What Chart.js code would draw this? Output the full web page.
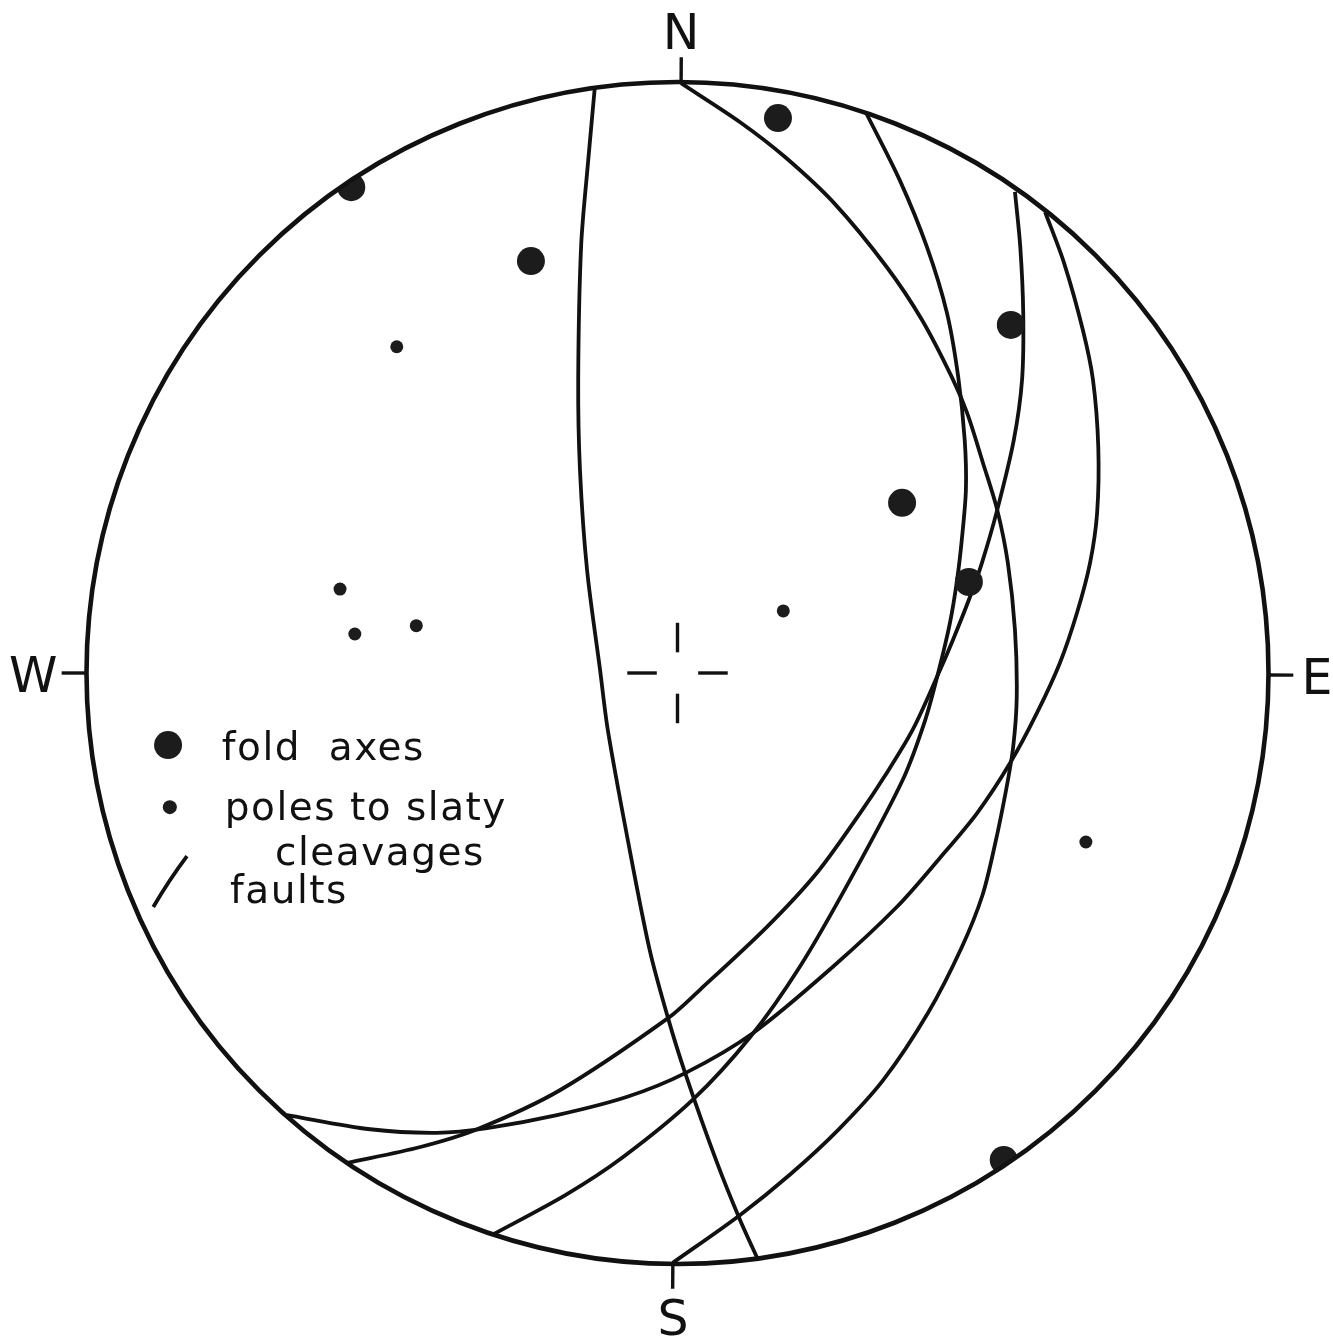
<!DOCTYPE html>
<html lang="en">
<head>
<meta charset="UTF-8">
<title>Stereonet - fold axes, cleavages and faults</title>
<script src="https://cdn.jsdelivr.net/npm/chart.js"></script>
<style>
  body { margin: 0; background: #ffffff; }
  canvas { display: block; }
</style>
</head>
<body>
<canvas id="net" width="1333" height="1337"></canvas>
<script>
// all positions in units of the net radius: x = east, y = north, centre 0,0
const foldAxes = [[0.170, 0.939], [-0.552, 0.822], [-0.248, 0.697], [0.564, 0.589],
                  [0.380, 0.288], [0.493, 0.154], [0.552, -0.824]];
const cleavagePoles = [[-0.475, 0.552], [-0.571, 0.142], [-0.546, 0.066], [-0.442, 0.080],
                       [0.179, 0.105], [0.691, -0.286]];

// fault great circles
const faultA = [[-0.140, 0.990], [-0.151, 0.868], [-0.163, 0.724], [-0.168, 0.496], [-0.165, 0.343],
                [-0.153, 0.174], [-0.131, 0.005], [-0.118, -0.096], [-0.084, -0.283], [-0.047, -0.469],
                [-0.016, -0.584], [0.013, -0.677], [0.067, -0.829], [0.106, -0.926], [0.135, -0.990]];
const faultB = [[0.006, 0.998], [0.106, 0.932], [0.182, 0.873], [0.265, 0.795], [0.354, 0.687],
                [0.414, 0.597], [0.464, 0.501], [0.490, 0.440], [0.517, 0.355], [0.541, 0.276],
                [0.559, 0.186], [0.571, 0.073], [0.574, -0.041], [0.568, -0.125], [0.556, -0.198],
                [0.537, -0.291], [0.516, -0.376], [0.481, -0.464], [0.424, -0.575], [0.348, -0.689],
                [0.272, -0.773], [0.190, -0.849], [0.106, -0.917], [-0.008, -0.998]];
const faultR = [[0.319, 0.948], [0.376, 0.834], [0.422, 0.721], [0.456, 0.609], [0.475, 0.501],
                [0.486, 0.394], [0.488, 0.310], [0.481, 0.225], [0.473, 0.157], [0.461, 0.085],
                [0.441, 0.000], [0.419, -0.080], [0.381, -0.181], [0.292, -0.350], [0.207, -0.497],
                [0.123, -0.616], [0.026, -0.722], [-0.092, -0.819], [-0.189, -0.883], [-0.314, -0.951]];
const faultQ = [[0.571, 0.814], [0.580, 0.721], [0.585, 0.609], [0.583, 0.496], [0.569, 0.394],
                [0.541, 0.276], [0.515, 0.186], [0.495, 0.129], [0.466, 0.056], [0.442, 0.000],
                [0.398, -0.096], [0.351, -0.174], [0.309, -0.237], [0.236, -0.338], [0.151, -0.430],
                [0.038, -0.536], [-0.016, -0.584], [-0.199, -0.706], [-0.339, -0.772], [-0.435, -0.802],
                [-0.559, -0.829]];
const faultP = [[0.622, 0.780], [0.654, 0.694], [0.686, 0.580], [0.703, 0.496], [0.712, 0.382],
                [0.710, 0.271], [0.698, 0.186], [0.676, 0.102], [0.647, 0.017], [0.608, -0.068],
                [0.563, -0.152], [0.507, -0.237], [0.444, -0.313], [0.371, -0.396], [0.263, -0.497],
                [0.128, -0.609], [0.013, -0.677], [-0.085, -0.717], [-0.204, -0.748], [-0.322, -0.770],
                [-0.407, -0.778], [-0.520, -0.772], [-0.661, -0.748]];
const faults = [faultA, faultB, faultR, faultQ, faultP];

const directions = ['N', 'E', 'S', 'W'];
const legendLabels = ['fold  axes', 'poles to slaty', 'cleavages', 'faults'];

const INK = '#111111';
const DOT = '#1c1c1c';

function toXY(list) {
    return list.map(p => ({ x: p[0], y: p[1] }));
}

// primitive circle, ticks, centre cross, labels and legend
const netFrame = {
    id: 'netFrame',
    beforeDatasetsDraw(chart) {
        const { ctx, scales: { x, y } } = chart;
        const r = x.getPixelForValue(1) - x.getPixelForValue(0);
        ctx.save();
        ctx.beginPath();
        ctx.arc(x.getPixelForValue(0), y.getPixelForValue(0), r, 0, Math.PI * 2);
        ctx.clip();
    },
    afterDatasetsDraw(chart) {
        const { ctx, scales: { x, y } } = chart;
        ctx.restore();
        const cx = x.getPixelForValue(0), cy = y.getPixelForValue(0);
        const r = x.getPixelForValue(1) - cx;
        const px = v => x.getPixelForValue(v);
        const py = v => y.getPixelForValue(v);

        ctx.save();
        ctx.strokeStyle = INK;
        ctx.fillStyle = INK;
        ctx.lineCap = 'butt';

        // primitive
        ctx.lineWidth = 4.6;
        ctx.beginPath();
        ctx.arc(cx, cy, r, 0, Math.PI * 2);
        ctx.stroke();

        // direction ticks (drawing is turned a hair off north)
        const tickAz = [0.35, 90.2, 180.45, 270];
        ctx.lineWidth = 3.4;
        tickAz.forEach(az => {
            const a = az * Math.PI / 180;
            ctx.beginPath();
            ctx.moveTo(px(Math.sin(a)), py(Math.cos(a)));
            ctx.lineTo(px(1.042 * Math.sin(a)), py(1.042 * Math.cos(a)));
            ctx.stroke();
        });

        // centre cross
        ctx.lineWidth = 3.4;
        [[0, 1], [1, 0], [0, -1], [-1, 0]].forEach(d => {
            ctx.beginPath();
            ctx.moveTo(px(0.035 * d[0]), py(0.035 * d[1]));
            ctx.lineTo(px(0.085 * d[0]), py(0.085 * d[1]));
            ctx.stroke();
        });

        // compass letters
        ctx.font = '49px "DejaVu Sans"';
        ctx.textBaseline = 'alphabetic';
        ctx.textAlign = 'center';
        ctx.fillText(directions[0], cx + 3.5, cy - r - 33);
        ctx.fillText(directions[2], cx - 4.5, cy + r + 71);
        ctx.textAlign = 'left';
        ctx.fillText(directions[1], cx + r + 33, cy + 21);
        ctx.textAlign = 'right';
        ctx.fillText(directions[3], cx - r - 29, cy + 19);

        // legend symbols
        ctx.fillStyle = DOT;
        ctx.beginPath();
        ctx.arc(px(-0.862), py(-0.122), 14, 0, Math.PI * 2);
        ctx.fill();
        ctx.beginPath();
        ctx.arc(px(-0.859), py(-0.227), 7, 0, Math.PI * 2);
        ctx.fill();
        ctx.lineWidth = 3.8;
        ctx.beginPath();
        ctx.moveTo(px(-0.830), py(-0.310));
        ctx.quadraticCurveTo(px(-0.860), py(-0.350), px(-0.887), py(-0.396));
        ctx.stroke();

        // legend text
        ctx.fillStyle = INK;
        ctx.font = '39px "DejaVu Sans"';
        ctx.letterSpacing = '1.5px';
        ctx.textAlign = 'left';
        ctx.fillText(legendLabels[0], px(-0.771), py(-0.147));
        ctx.fillText(legendLabels[1], px(-0.766), py(-0.249));
        ctx.fillText(legendLabels[2], px(-0.681), py(-0.325));
        ctx.fillText(legendLabels[3], px(-0.757), py(-0.389));
        ctx.restore();
    }
};

const datasets = [
    {
        label: 'fold axes',
        data: toXY(foldAxes),
        pointRadius: 14,
        pointBackgroundColor: DOT,
        pointBorderWidth: 0,
        showLine: false,
        order: 0
    },
    {
        label: 'poles to slaty cleavages',
        data: toXY(cleavagePoles),
        pointRadius: 6.5,
        pointBackgroundColor: DOT,
        pointBorderWidth: 0,
        showLine: false,
        order: 0
    }
];
faults.forEach((f, i) => {
    datasets.push({
        label: 'fault ' + (i + 1),
        data: toXY(f),
        showLine: true,
        borderColor: INK,
        borderWidth: 3.8,
        tension: 0.3,
        pointRadius: 0,
        fill: false,
        order: 1
    });
});

new Chart(document.getElementById('net'), {
    type: 'scatter',
    data: { datasets: datasets },
    options: {
        responsive: false,
        animation: false,
        events: [],
        layout: { padding: { left: 86.5, right: 64.5, top: 82, bottom: 73 } },
        elements: { line: { capBezierPoints: false, borderJoinStyle: 'round' } },
        scales: {
            x: { type: 'linear', min: -1, max: 1, display: false },
            y: { type: 'linear', min: -1, max: 1, display: false }
        },
        plugins: {
            legend: { display: false },
            tooltip: { enabled: false }
        }
    },
    plugins: [netFrame]
});
</script>
</body>
</html>
